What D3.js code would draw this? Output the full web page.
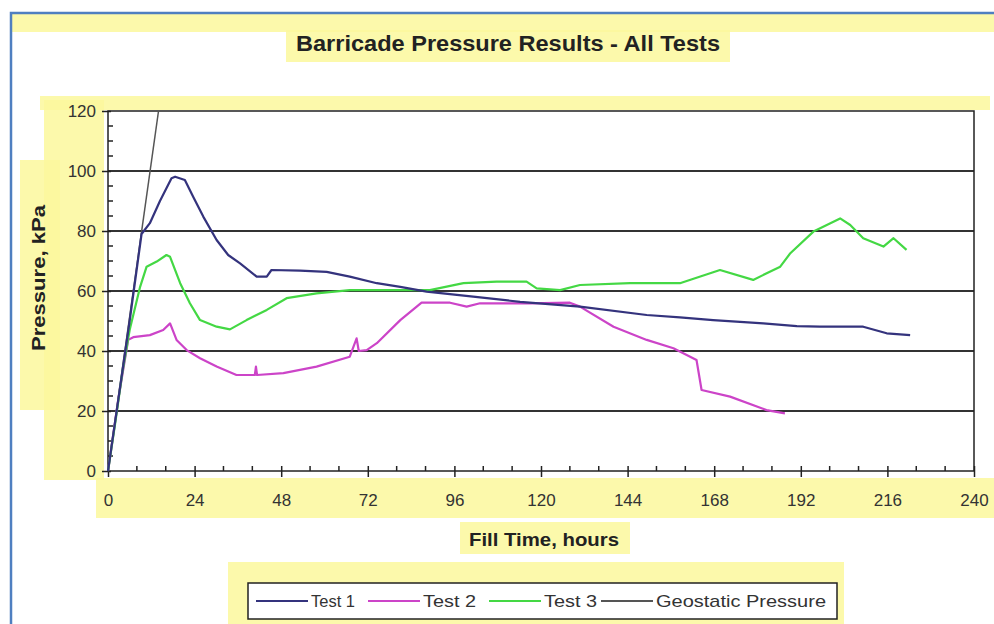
<!DOCTYPE html>
<html><head><meta charset="utf-8">
<script src="https://cdn.jsdelivr.net/npm/d3@7"></script>
<style>body{margin:0;background:#fff}svg{display:block}text{font-family:"Liberation Sans",Arial,sans-serif}</style>
</head><body><svg id="c" width="994" height="624"></svg>
<script>
const title = "Barricade Pressure Results - All Tests";
const xTitle = "Fill Time, hours";
const yTitle = "Pressure, kPa";
const xTicks = [0,24,48,72,96,120,144,168,192,216,240];
const yTicks = [0,20,40,60,80,100,120];
const seriesNames = ["Test 1","Test 2","Test 3","Geostatic Pressure"];

const test1Hours = [0,3,6,9.3,11.6,14.4,17.6,18.6,21.3,23.6,26.4,30.1,33.3,36.6,41.2,44,45.3,53.2,60.6,67,74.5,81,88.3,101.2,114.2,130.8,149.3,158.5,167.7,181.6,190.9,197.3,209.3,215.8,222.3];
const test1Pressure = [0,25,50,79,82.6,90,97.6,98.1,97,91.4,84.8,77,72,69.2,64.8,64.8,67,66.8,66.4,64.8,62.6,61.4,59.8,58.1,56.4,54.8,52,51.2,50.3,49.2,48.3,48.1,48.1,45.9,45.3];

const test2Hours = [0,3,5.6,7,11.6,15.3,17.2,19,21.8,25.5,30.1,35.6,40.7,41,41.3,48.6,57.8,67,68.9,69.5,71.7,74.5,81,86.9,94.8,99.4,103.1,116.9,128,130.8,140.1,149.3,156.7,163.1,164.5,172.4,182.5,187.6];
const test2Pressure = [0,25,43.7,44.6,45.3,47,49.2,43.7,40.3,37.6,34.8,32,32,34.8,32,32.6,34.8,38.1,44.2,40,40.3,42.6,50.3,56.1,56.1,54.8,55.9,55.9,56.1,54.8,48.1,43.7,40.9,37,27,24.8,20.3,19.2];

const test3Hours = [0,2,4,6,8.9,10.7,13.5,16.2,17.2,20,22.7,25.5,30.1,33.8,38.4,44,49.5,57.8,67,75.4,89.2,98.5,107.7,116,118.8,125.3,130.8,144.7,158.5,169.6,178.8,186.3,189.1,195.5,199.2,202.9,205.7,209.3,214.9,217.7,221.3];
const test3Pressure = [0,16,33,47,61.4,68.1,69.8,72,71.4,62.6,55.9,50.3,48.1,47.2,50.3,53.7,57.6,59.2,60.3,60.3,60.3,62.6,63.1,63.1,60.9,60.3,62,62.6,62.6,67,63.7,68.1,72.6,79.8,82,84.2,82,77.6,74.8,77.6,73.7];

const geoHours = [0,14];
const geoPressure = [0,120];

const colors = ["#34337d","#cc44c8","#44d844","#555555"];

const svg = d3.select("#c");
// yellow highlight artifacts
const hl = "#fcf89c";
[[12,14,982,18],[286,30,444,32],[40,96,950,14],[44,100,60,380],[20,160,40,250],[96,478,898,40],[460,522,170,32],[228,562,616,62]].forEach(r=>{
  svg.append("rect").attr("x",r[0]).attr("y",r[1]).attr("width",r[2]).attr("height",r[3]).attr("fill",hl).attr("opacity",0.85);
});
// frame
svg.append("rect").attr("x",11).attr("y",13).attr("width",1000).attr("height",640).attr("fill","none").attr("stroke","#4f7fc0").attr("stroke-width",2.5);

const x = d3.scaleLinear().domain([0,240]).range([108,974]);
const y = d3.scaleLinear().domain([0,120]).range([471,111]);

svg.append("rect").attr("x",x(0)).attr("y",y(120)).attr("width",x(240)-x(0)).attr("height",y(0)-y(120)).attr("fill","#fff");

// gridlines
svg.append("g").selectAll("line").data(yTicks.filter(v=>v>0&&v<120)).join("line")
  .attr("x1",x(0)).attr("x2",x(240)).attr("y1",d=>y(d)).attr("y2",d=>y(d))
  .attr("stroke","#333").attr("stroke-width",2.2);

// minor ticks
svg.append("g").selectAll("line").data(d3.range(0,121,5).filter(v=>v%20)).join("line")
  .attr("x1",x(0)).attr("x2",x(0)+5).attr("y1",d=>y(d)).attr("y2",d=>y(d)).attr("stroke","#222").attr("stroke-width",1.5);
svg.append("g").selectAll("line").data(d3.range(0,241,8).filter(v=>v%24)).join("line")
  .attr("x1",d=>x(d)).attr("x2",d=>x(d)).attr("y1",y(0)).attr("y2",y(0)-5).attr("stroke","#222").attr("stroke-width",1.5);

// axes
const yAxis = svg.append("g").attr("transform",`translate(${x(0)},0)`)
  .call(d3.axisLeft(y).tickValues(yTicks).tickSize(6).tickPadding(6));
const xAxis = svg.append("g").attr("transform",`translate(0,${y(0)})`)
  .call(d3.axisBottom(x).tickValues(xTicks).tickSize(6).tickPadding(17));
[yAxis,xAxis].forEach(a=>{
  a.select(".domain").remove();
  a.selectAll(".tick line").attr("stroke","#222").attr("stroke-width",1.5);
  a.selectAll("text").attr("font-size",17).attr("fill","#333");
});
yAxis.selectAll(".tick line").attr("x1",3);
xAxis.selectAll(".tick line").attr("y1",-5);

// plot border
svg.append("rect").attr("x",x(0)).attr("y",y(120)).attr("width",x(240)-x(0)).attr("height",y(0)-y(120)).attr("fill","none").attr("stroke","#222").attr("stroke-width",1.5);

const line = d3.line().x(d=>x(d[0])).y(d=>y(d[1]));
const series = [
  [test1Hours,test1Pressure],
  [test2Hours,test2Pressure],
  [test3Hours,test3Pressure],
  [geoHours,geoPressure]
];
const order = [3,1,2,0];
order.forEach(i=>{
  const pts = d3.zip(series[i][0],series[i][1]);
  svg.append("path").attr("d",line(pts)).attr("fill","none")
    .attr("stroke",colors[i]).attr("stroke-width",i===3?1.5:2.2).attr("stroke-linejoin","round");
});

// titles
svg.append("text").attr("x",508).attr("y",51).attr("text-anchor","middle").attr("font-size",22).attr("font-weight","bold").attr("fill","#222")
  .attr("textLength",424).attr("lengthAdjust","spacingAndGlyphs").text(title);
svg.append("text").attr("x",544).attr("y",546).attr("text-anchor","middle").attr("font-size",18).attr("font-weight","bold").attr("fill","#222")
  .attr("textLength",150).attr("lengthAdjust","spacingAndGlyphs").text(xTitle);
svg.append("text").attr("transform","translate(45,278) rotate(-90)").attr("text-anchor","middle").attr("font-size",18).attr("font-weight","bold").attr("fill","#222")
  .attr("textLength",146).attr("lengthAdjust","spacingAndGlyphs").text(yTitle);

// legend
svg.append("rect").attr("x",248).attr("y",583).attr("width",589).attr("height",36).attr("fill","#fff").attr("stroke","#222").attr("stroke-width",1.5);
const legX = [256,368,489,601];
const legTextW = [44,53,53,170];
seriesNames.forEach((n,i)=>{
  svg.append("line").attr("x1",legX[i]).attr("x2",legX[i]+52).attr("y1",601).attr("y2",601).attr("stroke",colors[i]).attr("stroke-width",2);
  svg.append("text").attr("x",legX[i]+55).attr("y",607).attr("font-size",17).attr("fill","#333")
    .attr("textLength",legTextW[i]).attr("lengthAdjust","spacingAndGlyphs").text(n);
});
</script></body></html>
